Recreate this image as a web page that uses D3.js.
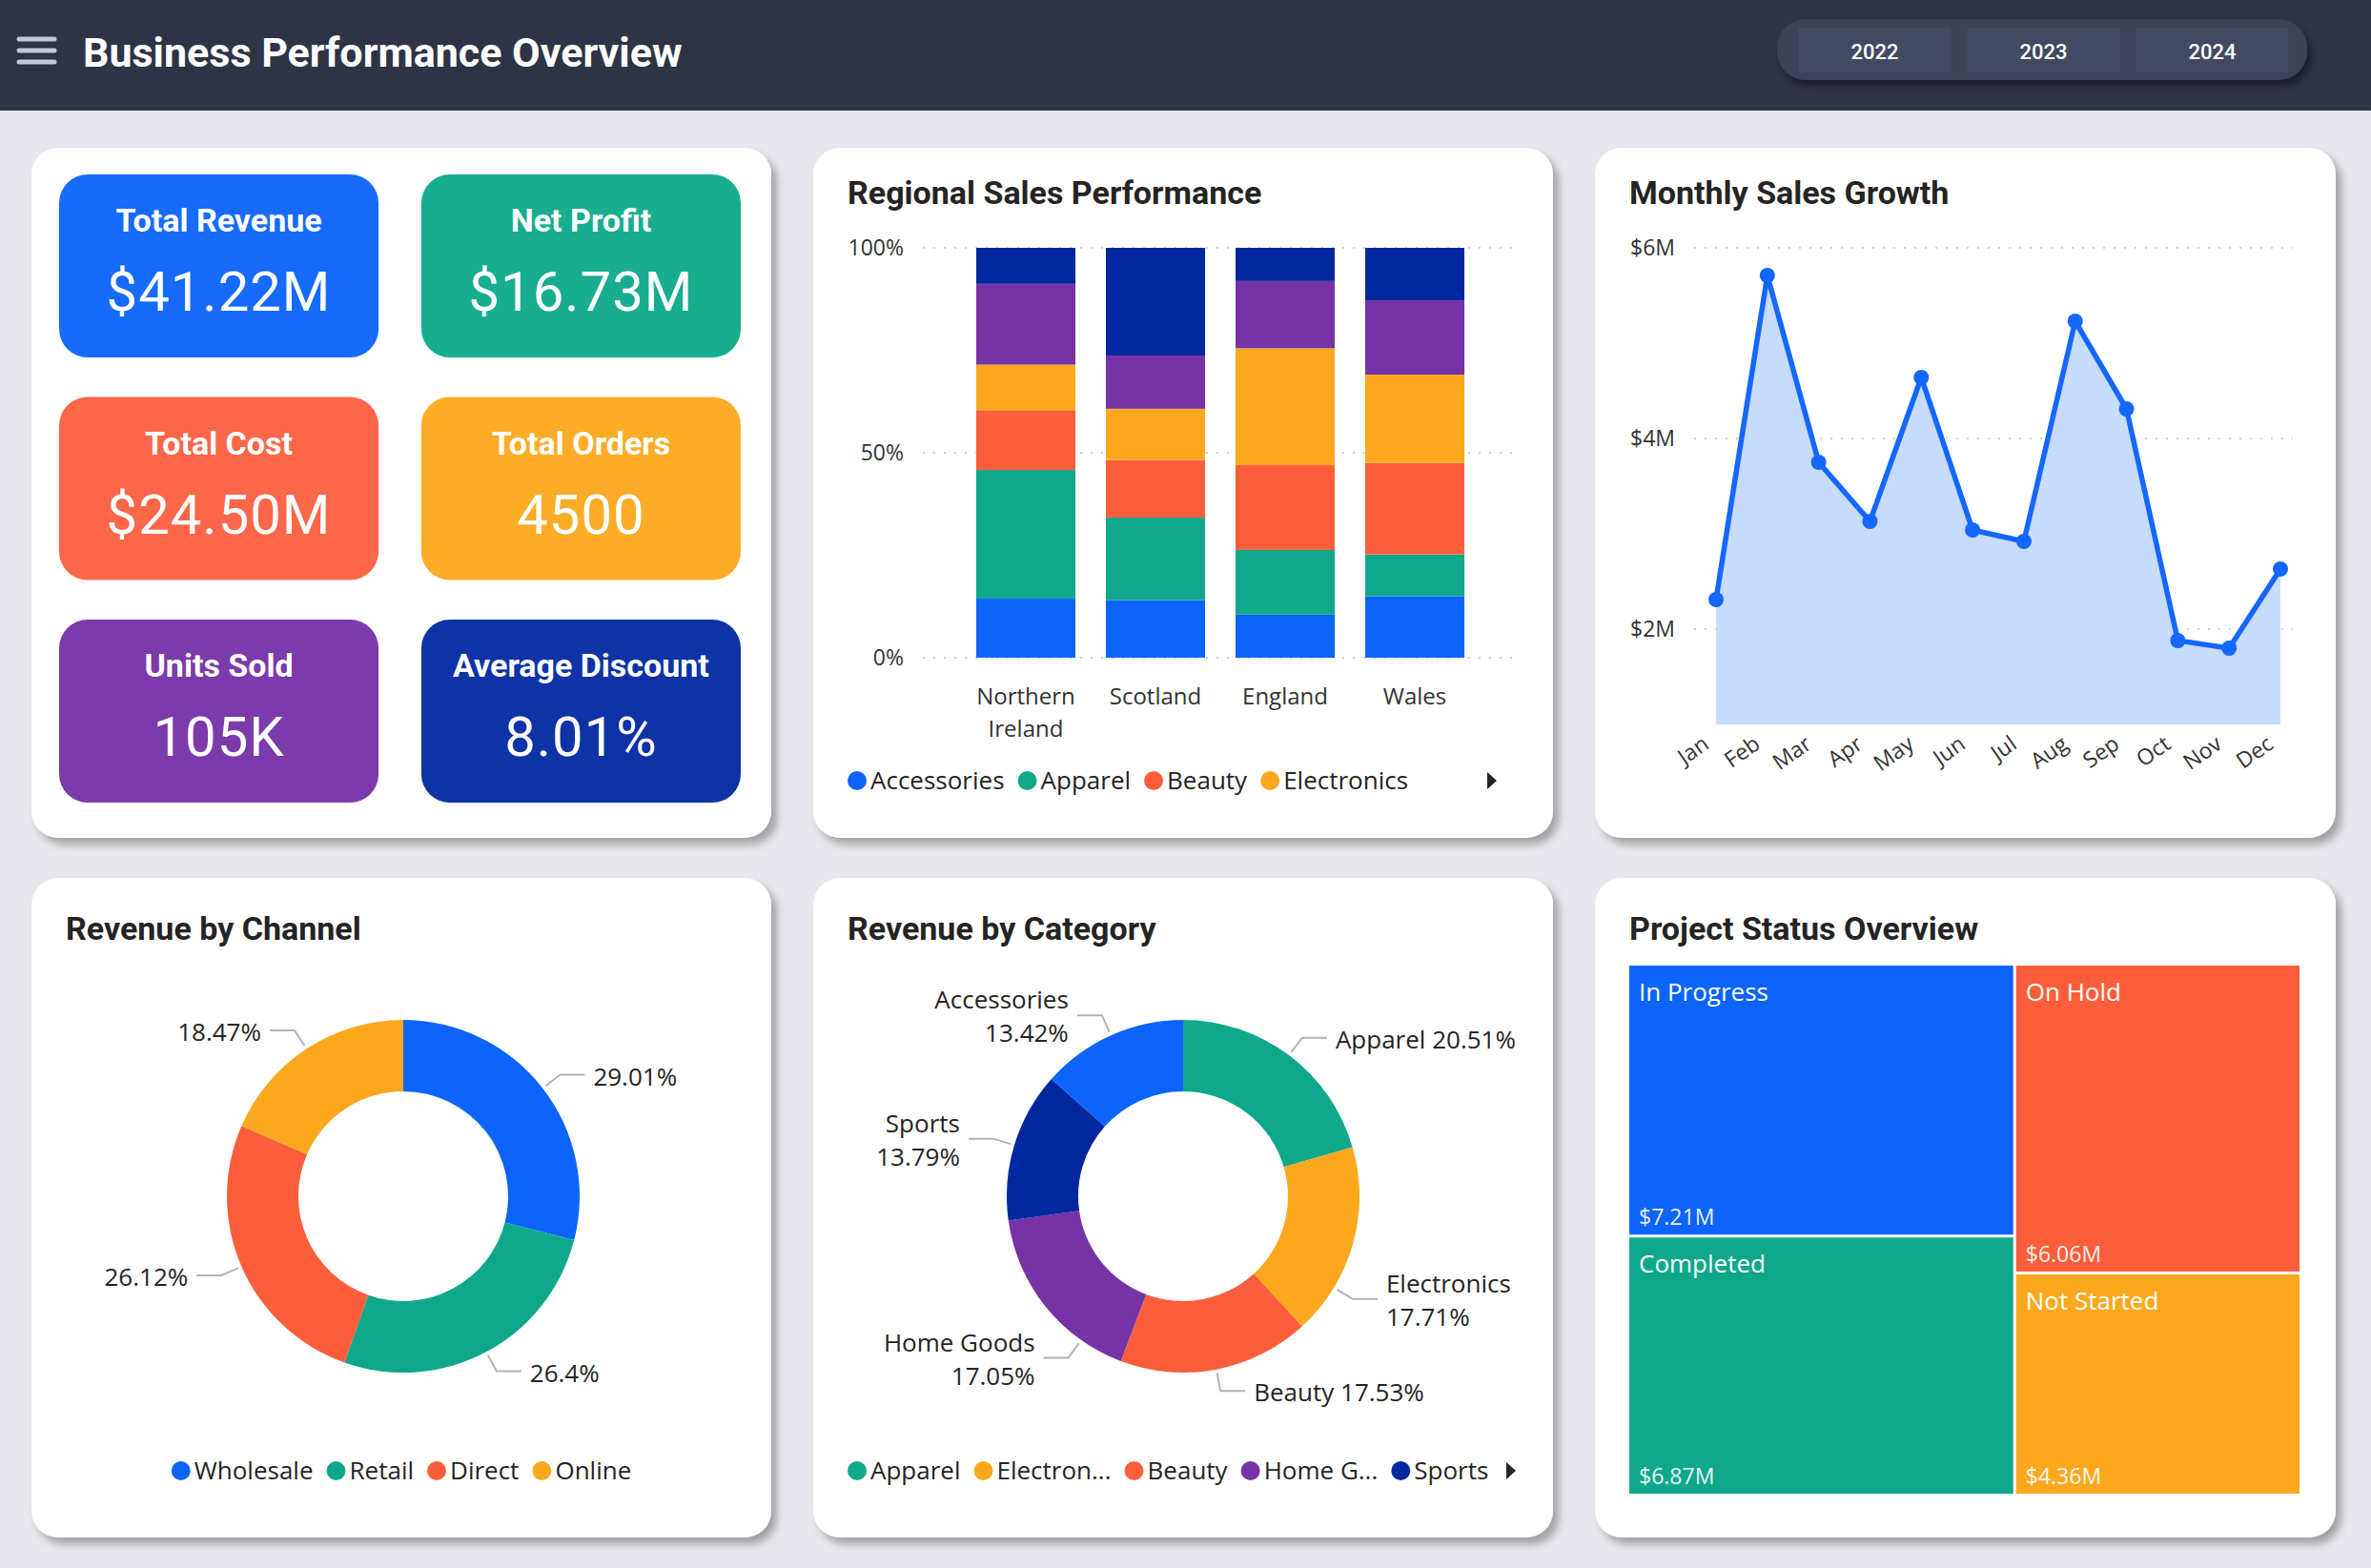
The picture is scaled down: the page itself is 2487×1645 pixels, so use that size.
<!DOCTYPE html>
<html>
<head>
<meta charset="utf-8">
<script src="https://cdn.jsdelivr.net/npm/d3@7"></script>
<style>
  body { margin: 0; background: #e7e7ed; }
  svg { display: block; }
</style>
</head>
<body>
<div id="dash"></div>
<script>
// Data

var years = ["2022", "2023", "2024"];

var kpiNames = ["Total Revenue", "Net Profit", "Total Cost", "Total Orders", "Units Sold", "Average Discount"];
var kpiValues = ["$41.22M", "$16.73M", "$24.50M", "4500", "105K", "8.01%"];

var regions = ["Northern Ireland", "Scotland", "England", "Wales"];
var productCats = ["Accessories", "Apparel", "Beauty", "Electronics", "Home Goods", "Sports"];
// share of each region's sales, in %
var accessoriesShare = [14.4, 14.1, 10.5, 15.0];
var apparelShare     = [31.4, 20.1, 15.8, 10.2];
var beautyShare      = [14.6, 14.1, 20.7, 22.3];
var electronicsShare = [11.1, 12.5, 28.5, 21.5];
var homeGoodsShare   = [19.7, 13.0, 16.4, 18.1];
var sportsShare      = [8.8, 26.3, 8.1, 12.8];
var shareTicks = [0, 0.5, 1];

var months = ["Jan", "Feb", "Mar", "Apr", "May", "Jun", "Jul", "Aug", "Sep", "Oct", "Nov", "Dec"];
var monthlySales = [2.31, 5.71, 3.75, 3.13, 4.64, 3.04, 2.92, 5.23, 4.31, 1.88, 1.80, 2.63]; // $M
var salesTicks = [2, 4, 6];

var channels = ["Wholesale", "Retail", "Direct", "Online"];
var channelShare = [29.01, 26.4, 26.12, 18.47];

var categories = ["Apparel", "Electronics", "Beauty", "Home Goods", "Sports", "Accessories"];
var categoryShare = [20.51, 17.71, 17.53, 17.05, 13.79, 13.42];
var categoryLegend = ["Apparel", "Electron...", "Beauty", "Home G...", "Sports"];

var statuses = ["In Progress", "Completed", "On Hold", "Not Started"];
var statusRevenue = [7.21, 6.87, 6.06, 4.36]; // $M

// Colors

var catColor = {
  "Accessories": "#0c64fb", "Apparel": "#0fa88a", "Beauty": "#fc5e3c",
  "Electronics": "#fca81f", "Home Goods": "#7633a6", "Sports": "#0228a0"
};
var kpiColors = ["#176bfb", "#18ad8f", "#fc6649", "#fcac27", "#7b3baa", "#0f33a6"];
var channelColors = ["#0c64fb", "#0fa88a", "#fc5e3c", "#fca81f"];
var statusColors = ["#0c64fb", "#0fa88a", "#fc5e3c", "#fca81f"];

var BODY = "'Segoe UI', 'Open Sans', 'Noto Sans', sans-serif";
var DIN = "Roboto, 'DejaVu Sans', sans-serif";

var w = 2487;
var h = 1645;

var svg = d3.select("#dash")
  .append("svg")
    .attr("width", w)
    .attr("height", h);

var defs = svg.append("defs");
defs.append("filter").attr("id", "shadow")
  .attr("x", "-5%").attr("y", "-5%").attr("width", "115%").attr("height", "115%")
  .append("feDropShadow")
    .attr("dx", 6).attr("dy", 7).attr("stdDeviation", 4)
    .attr("flood-color", "#000").attr("flood-opacity", 0.3);
defs.append("filter").attr("id", "pillshadow")
  .attr("x", "-5%").attr("y", "-20%").attr("width", "115%").attr("height", "160%")
  .append("feDropShadow")
    .attr("dx", 4).attr("dy", 6).attr("stdDeviation", 4)
    .attr("flood-color", "#000").attr("flood-opacity", 0.45);

svg.append("rect")
  .attr("width", w)
  .attr("height", h)
  .attr("fill", "#e7e7ed");

// bold heading text, stand-in for the DIN face
function dinText(parent, x, y, str, size, weight, anchor, fill) {
  return parent.append("text")
    .attr("x", x)
    .attr("y", y)
    .attr("text-anchor", anchor || "start")
    .attr("font-family", DIN)
    .attr("font-size", size)
    .attr("font-weight", weight || 700)
    .attr("fill", fill || "#252423")
    .text(str);
}

// Header

svg.append("rect")
  .attr("width", w)
  .attr("height", 116)
  .attr("fill", "#2f3346");

svg.selectAll("line.burger")
  .data([41, 53, 65])
  .enter()
  .append("line")
    .attr("class", "burger")
    .attr("x1", 20).attr("x2", 57)
    .attr("y1", d => d).attr("y2", d => d)
    .attr("stroke", "#c3c6d6")
    .attr("stroke-width", 5)
    .attr("stroke-linecap", "round");

dinText(svg, 87, 70, "Business Performance Overview", 43, 700, "start", "#ffffff");

svg.append("rect")
  .attr("x", 1864).attr("y", 20)
  .attr("width", 556).attr("height", 64)
  .attr("rx", 30)
  .attr("fill", "#3d4259")
  .attr("filter", "url(#pillshadow)");

var xYear = d3.scaleBand()
  .domain(years)
  .range([1878, 2409])
  .paddingInner(0.096)
  .paddingOuter(0.048);

var yearBtn = svg.selectAll("g.year")
  .data(years)
  .enter()
  .append("g")
    .attr("class", "year");

yearBtn.append("rect")
  .attr("x", d => xYear(d))
  .attr("y", 29)
  .attr("width", xYear.bandwidth())
  .attr("height", 47)
  .attr("fill", "#434961");

yearBtn.each(function(d) {
  dinText(d3.select(this), xYear(d) + xYear.bandwidth() / 2, 62, d, 22, 500, "middle", "#ffffff");
});

// Cards

var cards = [
  {x: 33, y: 155, w: 776, h: 724, title: null},
  {x: 853, y: 155, w: 776, h: 724, title: "Regional Sales Performance"},
  {x: 1673, y: 155, w: 777, h: 724, title: "Monthly Sales Growth"},
  {x: 33, y: 921, w: 776, h: 692, title: "Revenue by Channel"},
  {x: 853, y: 921, w: 776, h: 692, title: "Revenue by Category"},
  {x: 1673, y: 921, w: 777, h: 692, title: "Project Status Overview"}
];

svg.selectAll("rect.card")
  .data(cards)
  .enter()
  .append("rect")
    .attr("class", "card")
    .attr("x", d => d.x).attr("y", d => d.y)
    .attr("width", d => d.w).attr("height", d => d.h)
    .attr("rx", 28)
    .attr("fill", "#ffffff")
    .attr("filter", "url(#shadow)");

cards.forEach(function(c, i) {
  if (c.title) dinText(svg, c.x + 36, c.y + (i < 3 ? 59 : 65), c.title, 34, 700, "start", "#252423");
});

// KPI tiles

var kpiCol = d3.scaleBand().domain([0, 1]).range([62, 777]).paddingInner(0.118);
var kpiRow = d3.scaleBand().domain([0, 1, 2]).range([183, 842]).paddingInner(0.178);

var tiles = svg.selectAll("g.kpi")
  .data(kpiNames)
  .enter()
  .append("g")
    .attr("class", "kpi");

tiles.append("rect")
  .attr("x", (d, i) => kpiCol(i % 2))
  .attr("y", (d, i) => kpiRow(Math.floor(i / 2)))
  .attr("width", kpiCol.bandwidth())
  .attr("height", kpiRow.bandwidth())
  .attr("rx", 30)
  .attr("fill", (d, i) => kpiColors[i]);

tiles.each(function(d, i) {
  var cx = kpiCol(i % 2) + kpiCol.bandwidth() / 2;
  var ty = kpiRow(Math.floor(i / 2));
  dinText(d3.select(this), cx, ty + 60, d, 34, 700, "middle", "#ffffff");
  d3.select(this).append("text")
    .attr("x", cx)
    .attr("y", ty + 143)
    .attr("text-anchor", "middle")
    .attr("font-family", DIN)
    .attr("font-size", 58)
    .attr("letter-spacing", 1)
    .attr("fill", "#ffffff")
    .text(kpiValues[i]);
});

// Legend helper

function legend(x, y, names, colors, centered, arrowX) {
  var g = svg.append("g");
  var pos = 0;
  names.forEach(function(n, i) {
    g.append("circle")
      .attr("cx", pos + 10).attr("cy", 0).attr("r", 10)
      .attr("fill", colors[i]);
    var t = g.append("text")
      .attr("x", pos + 24).attr("y", 0).attr("dy", "0.35em")
      .attr("font-family", BODY).attr("font-size", 26)
      .attr("fill", "#252423")
      .text(n);
    pos = pos + 24 + t.node().getComputedTextLength() + 14;
  });
  var left = centered ? x - (pos - 14) / 2 : x;
  g.attr("transform", `translate(${left},${y})`);
  if (arrowX) {
    svg.append("path")
      .attr("d", `M${arrowX - 5},${y - 9} L${arrowX + 5},${y} L${arrowX - 5},${y + 9} Z`)
      .attr("fill", "#252423");
  }
}

// Regional Sales Performance: 100% stacked columns

var regionRows = regions.map((r, i) => ({
  region: r,
  "Accessories": accessoriesShare[i],
  "Apparel": apparelShare[i],
  "Beauty": beautyShare[i],
  "Electronics": electronicsShare[i],
  "Home Goods": homeGoodsShare[i],
  "Sports": sportsShare[i]
}));

var stacked = d3.stack()
  .keys(productCats)
  .offset(d3.stackOffsetExpand)(regionRows);

var xBar = d3.scaleBand()
  .domain(regions)
  .range([1008, 1552])
  .paddingInner(0.235)
  .paddingOuter(0.1175);

var yBar = d3.scaleLinear()
  .domain([0, 1])
  .range([690, 260]);

svg.selectAll("line.bargrid")
  .data(shareTicks)
  .enter()
  .append("line")
    .attr("class", "bargrid")
    .attr("x1", 968).attr("x2", 1590)
    .attr("y1", d => yBar(d)).attr("y2", d => yBar(d))
    .attr("stroke", "#c4c4c4")
    .attr("stroke-width", 1.6)
    .attr("stroke-dasharray", "2,9");

svg.selectAll("text.bartick")
  .data(shareTicks)
  .enter()
  .append("text")
    .attr("class", "bartick")
    .attr("x", 948)
    .attr("y", d => yBar(d))
    .attr("dy", "0.35em")
    .attr("text-anchor", "end")
    .attr("font-family", BODY).attr("font-size", 23)
    .attr("fill", "#333333")
    .text(d3.format(".0%"));

svg.selectAll("g.layer")
  .data(stacked)
  .enter()
  .append("g")
    .attr("class", "layer")
    .attr("fill", d => catColor[d.key])
  .selectAll("rect")
  .data(d => d)
  .enter()
  .append("rect")
    .attr("x", d => xBar(d.data.region))
    .attr("y", d => yBar(d[1]))
    .attr("width", xBar.bandwidth())
    .attr("height", d => yBar(d[0]) - yBar(d[1]));

regions.forEach(function(r) {
  var t = svg.append("text")
    .attr("x", xBar(r) + xBar.bandwidth() / 2)
    .attr("y", 731)
    .attr("dy", "0.35em")
    .attr("text-anchor", "middle")
    .attr("font-family", BODY).attr("font-size", 24)
    .attr("fill", "#333333")
    .text(r);
  if (t.node().getComputedTextLength() > xBar.step()) {
    var words = r.split(" ");
    t.text(words[0]);
    svg.append("text")
      .attr("x", xBar(r) + xBar.bandwidth() / 2)
      .attr("y", 765)
      .attr("dy", "0.35em")
      .attr("text-anchor", "middle")
      .attr("font-family", BODY).attr("font-size", 24)
      .attr("fill", "#333333")
      .text(words.slice(1).join(" "));
  }
});

legend(889, 819, productCats.slice(0, 4), productCats.slice(0, 4).map(c => catColor[c]), false, 1565);

// Monthly Sales Growth: area + line

var xLine = d3.scalePoint()
  .domain(months)
  .range([1800, 2392]);

var yLine = d3.scaleLinear()
  .domain([1, 6])
  .range([760, 260]);

svg.selectAll("line.linegrid")
  .data(salesTicks)
  .enter()
  .append("line")
    .attr("class", "linegrid")
    .attr("x1", 1777).attr("x2", 2405)
    .attr("y1", d => yLine(d)).attr("y2", d => yLine(d))
    .attr("stroke", "#c4c4c4")
    .attr("stroke-width", 1.6)
    .attr("stroke-dasharray", "2,9");

svg.selectAll("text.linetick")
  .data(salesTicks)
  .enter()
  .append("text")
    .attr("class", "linetick")
    .attr("x", 1757)
    .attr("y", d => yLine(d))
    .attr("dy", "0.35em")
    .attr("text-anchor", "end")
    .attr("font-family", BODY).attr("font-size", 23)
    .attr("fill", "#333333")
    .text(d => `$${d}M`);

var area = d3.area()
  .x((d, i) => xLine(months[i]))
  .y0(yLine(1))
  .y1(d => yLine(d));

var line = d3.line()
  .x((d, i) => xLine(months[i]))
  .y(d => yLine(d));

svg.append("path")
  .datum(monthlySales)
  .attr("d", area)
  .attr("fill", "#c7dbfb");

svg.append("path")
  .datum(monthlySales)
  .attr("d", line)
  .attr("fill", "none")
  .attr("stroke", "#1467ff")
  .attr("stroke-width", 5.5)
  .attr("stroke-linejoin", "round");

svg.selectAll("circle.pt")
  .data(monthlySales)
  .enter()
  .append("circle")
    .attr("class", "pt")
    .attr("cx", (d, i) => xLine(months[i]))
    .attr("cy", d => yLine(d))
    .attr("r", 8)
    .attr("fill", "#1467ff");

svg.selectAll("text.month")
  .data(months)
  .enter()
  .append("text")
    .attr("class", "month")
    .attr("transform", d => `translate(${xLine(d) - 6},784) rotate(-35)`)
    .attr("text-anchor", "end")
    .attr("font-family", BODY).attr("font-size", 23)
    .attr("fill", "#333333")
    .text(d => d);

// Donut helper

var arc = d3.arc().innerRadius(110).outerRadius(185);
var pie = d3.pie().sort(null).value(d => d);

function donut(cx, cy, values, colors, labels, shift, lines) {
  var arcs = pie(values);
  svg.append("g")
    .attr("transform", `translate(${cx},${cy})`)
    .selectAll("path")
    .data(arcs)
    .enter()
    .append("path")
      .attr("d", arc)
      .attr("fill", (d, i) => colors[i]);

  arcs.forEach(function(a, i) {
    var ang = (a.startAngle + a.endAngle) / 2 + (shift ? shift[i] * Math.PI / 180 : 0);
    var s = Math.sin(ang), c = -Math.cos(ang);
    var side = s >= 0 ? 1 : -1;
    var p1 = [cx + 189 * s, cy + 189 * c];
    var p2 = [cx + 208 * s, cy + 208 * c];
    var p3 = [p2[0] + side * 26, p2[1]];
    svg.append("path")
      .attr("d", `M${p1}L${p2}L${p3}`)
      .attr("fill", "none")
      .attr("stroke", "#b3b3b3")
      .attr("stroke-width", 2);
    var t = svg.append("text")
      .attr("x", p3[0] + side * 9)
      .attr("text-anchor", side > 0 ? "start" : "end")
      .attr("font-family", BODY).attr("font-size", 26)
      .attr("fill", "#252423");
    var parts = labels[i];
    if (lines && lines[i] === 2) {
      t.append("tspan").attr("x", p3[0] + side * 9).attr("y", p2[1] - 16).attr("dy", "0.35em").text(parts[0]);
      t.append("tspan").attr("x", p3[0] + side * 9).attr("y", p2[1] + 19).attr("dy", "0.35em").text(parts[1]);
    } else {
      t.attr("y", p2[1] + 2).attr("dy", "0.35em").text(parts.filter(p => p).join(" "));
    }
  });
}

// Revenue by Channel

donut(423, 1255, channelShare, channelColors,
  channelShare.map(v => [null, v + "%"]));

legend(421, 1543, channels, channelColors, true);

// Revenue by Category

var catLabelShift = [0, 15.5, 0, -16, 0, 0];
var catLabelLines = [1, 2, 1, 2, 2, 2];

donut(1241, 1255, categoryShare, categories.map(c => catColor[c]),
  categories.map((c, i) => [c, categoryShare[i] + "%"]), catLabelShift, catLabelLines);

legend(889, 1543, categoryLegend, categories.slice(0, 5).map(c => catColor[c]), false, 1585);

// Project Status Overview: treemap

var root = d3.hierarchy({children: statuses.map((s, i) => ({name: s, value: statusRevenue[i], color: statusColors[i]}))})
  .sum(d => d.value)
  .sort((a, b) => b.value - a.value);

d3.treemap()
  .tile(d3.treemapSquarify.ratio(1))
  .size([703, 554])
  .paddingInner(3)(root);

var cells = svg.append("g")
  .attr("transform", "translate(1709,1013)")
  .selectAll("g")
  .data(root.leaves())
  .enter()
  .append("g")
    .attr("transform", d => `translate(${d.x0},${d.y0})`);

cells.append("rect")
  .attr("width", d => d.x1 - d.x0)
  .attr("height", d => d.y1 - d.y0)
  .attr("fill", d => d.data.color);

cells.append("text")
  .attr("x", 10)
  .attr("y", 37)
  .attr("font-family", BODY).attr("font-size", 26)
  .attr("fill", "#ffffff")
  .text(d => d.data.name);

cells.append("text")
  .attr("x", 10)
  .attr("y", d => d.y1 - d.y0 - 10)
  .attr("font-family", BODY).attr("font-size", 23)
  .attr("fill", "#ffffff")
  .attr("fill-opacity", 0.92)
  .text(d => "$" + d3.format(".2f")(d.data.value) + "M");
</script>
</body>
</html>
